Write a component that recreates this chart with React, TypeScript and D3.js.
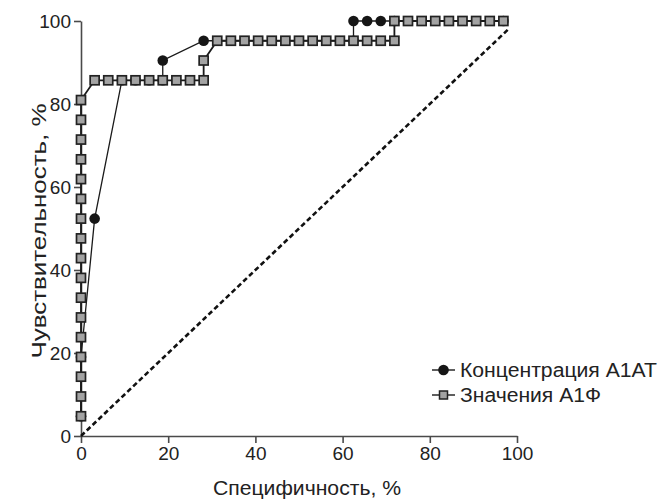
import { useEffect, useRef } from "react";
import * as d3 from "d3";

// Chart size
const WIDTH = 659;
const HEIGHT = 499;

// ROC curve for A1AT concentration (circles): [specificity, sensitivity]
const A1AT_X = [0, 0, 3.13, 9.38, 12.5, 15.63, 18.75, 18.75, 28.13, 62.5, 62.5, 65.63, 68.75, 71.88, 96.88];
const A1AT_Y = [4.76, 19.05, 52.38, 85.71, 85.71, 85.71, 85.71, 90.48, 95.24, 95.24, 100, 100, 100, 100, 100];

// ROC curve for A1F values (squares)
const A1F_X = [
  0, 0, 0, 0, 0, 0, 0, 0, 0, 0, 0, 0, 0, 0, 0, 0, 0,
  3.13, 6.25, 9.38, 12.5, 15.63, 18.75, 21.88, 25, 28.13,
  28.13,
  31.25, 34.38, 37.5, 40.63, 43.75, 46.88, 50, 53.13, 56.25, 59.38, 62.5, 65.63, 68.75, 71.88,
  71.88, 75, 78.13, 81.25, 84.38, 87.5, 90.63, 93.75, 96.88,
];
const A1F_Y = [
  4.76, 9.52, 14.29, 19.05, 23.81, 28.57, 33.33, 38.1, 42.86, 47.62, 52.38, 57.14, 61.9, 66.67, 71.43, 76.19, 80.95,
  85.71, 85.71, 85.71, 85.71, 85.71, 85.71, 85.71, 85.71, 85.71,
  90.48,
  95.24, 95.24, 95.24, 95.24, 95.24, 95.24, 95.24, 95.24, 95.24, 95.24, 95.24, 95.24, 95.24, 95.24,
  100, 100, 100, 100, 100, 100, 100, 100, 100,
];

// Line of no discrimination
const REF_X = [0, 98];
const REF_Y = [0, 98];

const TICKS = [0, 20, 40, 60, 80, 100];
const LEGEND = ["Концентрация А1АТ", "Значения А1Ф"];
const LEGEND_W = [197, 141];
const X_TITLE = "Специфичность, %";
const Y_TITLE = "Чувствительность, %";

const FONT = "'Liberation Sans', Arial, Helvetica, sans-serif";

export default function App() {
  const svgRef = useRef<SVGSVGElement>(null);

  useEffect(() => {
    const svg = d3.select(svgRef.current);
    svg.selectAll("*").remove();

    const x = d3.scaleLinear().domain([0, 100]).range([81, 517]);
    const y = d3.scaleLinear().domain([0, 100]).range([436, 21]);

    const toPts = (xs: number[], ys: number[]) => xs.map((v, i) => [v, ys[i]] as [number, number]);
    const a1at = toPts(A1AT_X, A1AT_Y);
    const a1f = toPts(A1F_X, A1F_Y);
    const ref = toPts(REF_X, REF_Y);

    const line = d3.line<[number, number]>().x((d) => x(d[0])).y((d) => y(d[1]));

    // ----- Axes -----
    const xAxis = svg.append("g")
      .attr("transform", `translate(0,${y(0)})`)
      .call(d3.axisBottom(x).tickValues(TICKS).tickSize(7).tickPadding(4).tickSizeOuter(0));
    const yAxis = svg.append("g")
      .attr("transform", `translate(${x(0)},0)`)
      .call(d3.axisLeft(y).tickValues(TICKS).tickSize(7).tickPadding(3).tickSizeOuter(0));

    [xAxis, yAxis].forEach((ax) => {
      ax.select(".domain").attr("stroke", "#4a4a4a").attr("stroke-width", 1.6);
      ax.selectAll(".tick line").attr("stroke", "#4a4a4a").attr("stroke-width", 1.6);
      ax.selectAll(".tick text")
        .attr("font-family", FONT).attr("font-size", 19).attr("fill", "#222");
    });

    // Axis titles (glyphs in the source are wide, stretch to match)
    svg.append("text")
      .attr("x", 307).attr("y", 495)
      .attr("text-anchor", "middle")
      .attr("font-family", FONT).attr("font-size", 20).attr("fill", "#222")
      .attr("textLength", 188).attr("lengthAdjust", "spacingAndGlyphs")
      .text(X_TITLE);
    svg.append("text")
      .attr("transform", "rotate(-90)")
      .attr("x", -231).attr("y", 46)
      .attr("text-anchor", "middle")
      .attr("font-family", FONT).attr("font-size", 20).attr("fill", "#222")
      .attr("textLength", 255).attr("lengthAdjust", "spacingAndGlyphs")
      .text(Y_TITLE);

    // ----- Reference diagonal -----
    svg.append("path")
      .attr("d", line(ref))
      .attr("fill", "none").attr("stroke", "#111")
      .attr("stroke-width", 2.6).attr("stroke-dasharray", "5,3");

    // ----- A1AT series (circles) -----
    svg.append("path")
      .attr("d", line(a1at))
      .attr("fill", "none").attr("stroke", "#1a1a1a").attr("stroke-width", 1.3);
    svg.append("g").selectAll("circle")
      .data(a1at)
      .enter()
      .append("circle")
      .attr("cx", (d) => x(d[0])).attr("cy", (d) => y(d[1]))
      .attr("r", 5.3).attr("fill", "#161616");

    // ----- A1F series (squares) -----
    const sq = 9;
    svg.append("path")
      .attr("d", line(a1f))
      .attr("fill", "none").attr("stroke", "#1a1a1a").attr("stroke-width", 1.8);
    svg.append("g").selectAll("rect")
      .data(a1f)
      .enter()
      .append("rect")
      .attr("x", (d) => x(d[0]) - sq / 2).attr("y", (d) => y(d[1]) - sq / 2)
      .attr("width", sq).attr("height", sq)
      .attr("fill", "#a3a3a3").attr("stroke", "#222").attr("stroke-width", 1.7);

    // ----- Legend -----
    const legend = svg.append("g").attr("transform", "translate(432, 370)");
    LEGEND.forEach((label, i) => {
      const row = legend.append("g").attr("transform", `translate(0, ${i * 25})`);
      row.append("line")
        .attr("x1", 0).attr("x2", 23).attr("y1", 0).attr("y2", 0)
        .attr("stroke", "#1a1a1a").attr("stroke-width", 1.4);
      if (i === 0) {
        row.append("circle").attr("cx", 11.5).attr("cy", 0).attr("r", 5.3).attr("fill", "#161616");
      } else {
        row.append("rect")
          .attr("x", 11.5 - 4).attr("y", -4).attr("width", 8).attr("height", 8)
          .attr("fill", "#a3a3a3").attr("stroke", "#222").attr("stroke-width", 1.5);
      }
      row.append("text")
        .attr("x", 28).attr("y", 7)
        .attr("font-family", FONT).attr("font-size", 20).attr("fill", "#222")
        .attr("textLength", LEGEND_W[i]).attr("lengthAdjust", "spacingAndGlyphs")
        .text(label);
    });
  }, []);

  return (
    <svg
      ref={svgRef}
      width={WIDTH}
      height={HEIGHT}
      style={{ position: "absolute", left: 0, top: 0, background: "#fff" }}
    />
  );
}
